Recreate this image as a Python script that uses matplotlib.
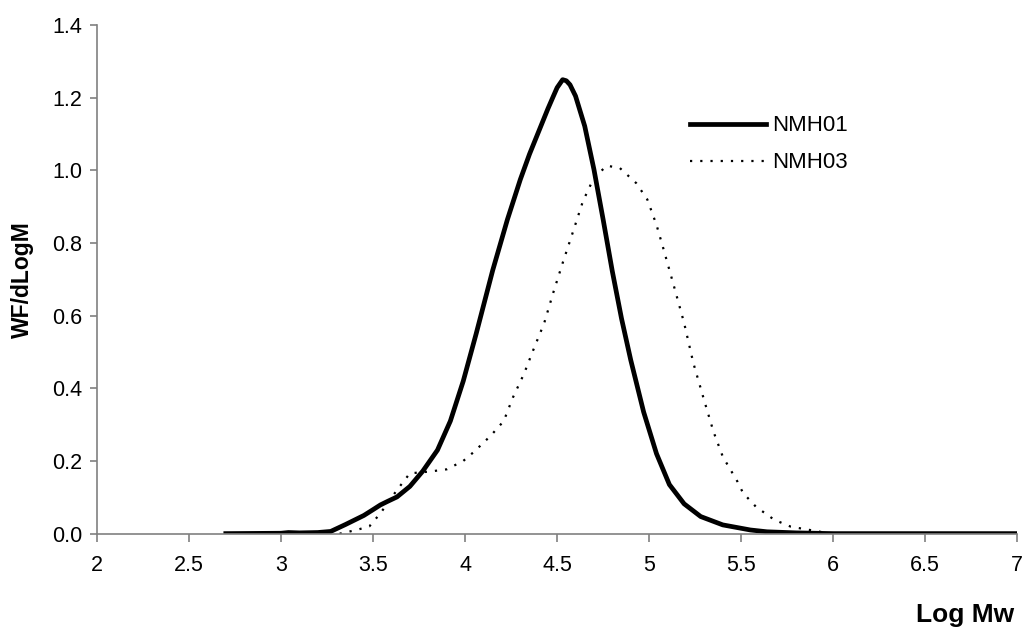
import numpy as np
import matplotlib
matplotlib.use('Agg')
import matplotlib.pyplot as plt

plt.rcParams['font.family'] = ['Liberation Sans', 'DejaVu Sans']

# NMH01 (solid)
x_nmh01 = [2.70, 3.00, 3.04, 3.10, 3.20, 3.27, 3.35, 3.45, 3.50, 3.54, 3.58, 3.63, 3.70, 3.77,
           3.85, 3.92, 3.99, 4.06, 4.15, 4.23, 4.30, 4.35, 4.39, 4.45, 4.48, 4.50, 4.53, 4.55,
           4.57, 4.60, 4.65, 4.70, 4.75, 4.80, 4.85, 4.90, 4.97, 5.04, 5.11, 5.19, 5.28, 5.40,
           5.55, 5.64, 5.80, 6.00, 7.00]
y_nmh01 = [0.000, 0.001, 0.003, 0.002, 0.003, 0.006, 0.025, 0.050, 0.066, 0.079, 0.089, 0.101, 0.130, 0.172,
           0.230, 0.310, 0.420, 0.550, 0.725, 0.865, 0.975, 1.045, 1.095, 1.170, 1.205, 1.228, 1.250, 1.247,
           1.236, 1.205, 1.122, 1.003, 0.865, 0.722, 0.592, 0.478, 0.335, 0.220, 0.135, 0.082, 0.047, 0.024,
           0.010, 0.005, 0.002, 0.000, 0.000]

# NMH03 (dotted)
x_nmh03 = [3.04, 3.32, 3.41, 3.48, 3.54, 3.63, 3.70, 3.81, 3.90, 3.99, 4.05, 4.14,
           4.21, 4.26, 4.32, 4.37, 4.43, 4.48, 4.53, 4.59, 4.64, 4.70, 4.77, 4.84,
           4.93, 4.99, 5.04, 5.08, 5.13, 5.19, 5.24, 5.30, 5.35, 5.40, 5.48, 5.51,
           5.58, 5.68, 5.77, 5.85, 5.93, 6.00, 7.00]
y_nmh03 = [0.000, 0.000, 0.010, 0.020, 0.056, 0.120, 0.166, 0.171, 0.177, 0.200, 0.226, 0.270,
           0.310, 0.375, 0.440, 0.505, 0.580, 0.665, 0.745, 0.837, 0.915, 0.980, 1.013, 1.007,
           0.965, 0.920, 0.850, 0.780, 0.690, 0.580, 0.470, 0.365, 0.280, 0.212, 0.143, 0.112,
           0.074, 0.038, 0.019, 0.012, 0.005, 0.000, 0.000]

x_ticks = [2, 2.5, 3, 3.5, 4, 4.5, 5, 5.5, 6, 6.5, 7]
x_tick_labels = ['2', '2.5', '3', '3.5', '4', '4.5', '5', '5.5', '6', '6.5', '7']
y_ticks = [0.0, 0.2, 0.4, 0.6, 0.8, 1.0, 1.2, 1.4]

fig = plt.figure(figsize=(10.26, 6.30), dpi=100)
ax = fig.add_axes([0.0945, 0.153, 0.897, 0.807])

ax.plot(x_nmh01, y_nmh01, color='black', lw=3.4, solid_joinstyle='round', label='NMH01')
ax.plot(x_nmh03, y_nmh03, color='black', lw=1.6, linestyle=(0, (1, 3.6)), label='NMH03')

ax.set_xlim(2, 7)
ax.set_ylim(0, 1.4)
ax.set_xticks(x_ticks)
ax.set_xticklabels(x_tick_labels)
ax.set_yticks(y_ticks)
ax.set_yticklabels([f'{v:.1f}' for v in y_ticks])

for s in ['top', 'right']:
    ax.spines[s].set_visible(False)
for s in ['left', 'bottom']:
    ax.spines[s].set_color('#808080')
    ax.spines[s].set_linewidth(1.2)
ax.tick_params(axis='both', colors='#808080', labelcolor='black', labelsize=15.5,
               length=5.4, width=1.2, direction='out')
ax.tick_params(axis='x', pad=10)
ax.tick_params(axis='y', pad=5)

fig.text(0.022, 0.556, 'WF/dLogM', rotation=90, ha='center', va='center',
         fontsize=16.5, fontweight='bold')
fig.text(0.988, 0.013, 'Log Mw', ha='right', va='baseline',
         fontsize=19, fontweight='bold')

leg = ax.legend(loc='upper left', bbox_to_anchor=(0.6725, 0.817), bbox_transform=fig.transFigure,
                frameon=False, fontsize=16, handlelength=3.4, handletextpad=0.3,
                labelspacing=0.72, borderaxespad=0, borderpad=0)

fig.savefig('out.png', dpi=100)
